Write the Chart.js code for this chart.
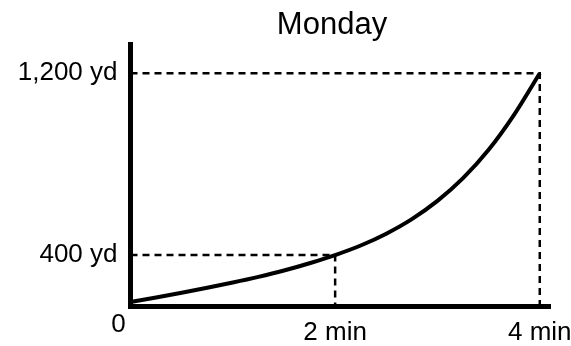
<!DOCTYPE html>
<html><head><meta charset="utf-8">
<script src="https://cdn.jsdelivr.net/npm/chart.js@4.4.1/dist/chart.umd.min.js"></script>
<style>html,body{margin:0;padding:0;background:#fff;overflow:hidden}</style>
</head><body>
<canvas id="c" width="571" height="346" style="width:571px;height:346px;display:block"></canvas>
<script>
// ---- data ----
const chartTitle = 'Monday';
const timeMin = [0, 0.25, 0.5, 0.75, 1, 1.25, 1.5, 1.75, 2, 2.25, 2.5, 2.75, 3, 3.25, 3.5, 3.75, 4];
const distanceYd = [193, 213, 234, 256, 279, 304, 332, 364, 400, 442, 494, 558, 638, 738, 863, 1018, 1200];
const xTickValues = [0, 2, 4];
const xTickLabels = ['0', '2 min', '4 min'];
const yTickValues = [400, 1200];
const yTickLabels = ['400 yd', '1,200 yd'];
const markedTimes = [2, 4];
const markedDistances = [400, 1200];

const X_MIN = 0, X_MAX = 4.1;
const Y_MIN = 173.6, Y_MAX = 1327.5;
const FONT = '"Liberation Sans", Arial, sans-serif';

const curve = {
  data: timeMin.map((t, i) => ({x: t, y: distanceYd[i]})),
  borderColor: '#000', borderWidth: 4, pointRadius: 0,
  cubicInterpolationMode: 'monotone', fill: false
};
const guides = markedTimes.map((t, i) => ({
  data: [{x: X_MIN, y: markedDistances[i]}, {x: t, y: markedDistances[i]}, {x: t, y: Y_MIN}],
  borderColor: '#000', borderWidth: 2.5, borderDash: [7, 5], pointRadius: 0,
  tension: 0, fill: false
}));

const originLabel = {
  id: 'originLabel',
  afterLayout(chart) {
    // let the y tick labels draw to the left of the narrow axis box
    chart.scales.y.left = 0;
  },
  afterDraw(chart) {
    const x = chart.scales.x, y = chart.scales.y;
    const ctx = chart.ctx;
    const idx = xTickValues.indexOf(0);
    ctx.save();
    ctx.font = '26px ' + FONT;
    ctx.fillStyle = '#000';
    ctx.textAlign = 'center';
    ctx.textBaseline = 'middle';
    ctx.fillText(xTickLabels[idx], x.getPixelForValue(0) - 12, y.bottom + 18);
    ctx.restore();
  }
};

new Chart(document.getElementById('c'), {
  type: 'line',
  data: {datasets: [curve, ...guides]},
  plugins: [originLabel],
  options: {
    responsive: false, animation: false, devicePixelRatio: 1,
    layout: {padding: {left: 114, right: 21, top: 0, bottom: 0}},
    plugins: {
      legend: {display: false}, tooltip: {enabled: false},
      title: {display: true, text: chartTitle, color: '#000',
        font: {family: FONT, size: 31, weight: 'normal'}, padding: {top: 7, bottom: 0}}
    },
    scales: {
      x: {
        type: 'linear', min: X_MIN, max: X_MAX,
        grid: {display: false},
        border: {display: true, color: '#000', width: 5},
        afterBuildTicks: s => { s.ticks = xTickValues.map(v => ({value: v})); },
        afterFit: s => { s.height = 39.5; s.paddingLeft = 0; s.paddingRight = 0; },
        ticks: {
          autoSkip: false, maxRotation: 0, color: '#000', padding: 3,
          font: {family: FONT, size: 26},
          callback: v => (v === 0 ? '' : xTickLabels[xTickValues.indexOf(v)])
        }
      },
      y: {
        type: 'linear', min: Y_MIN, max: Y_MAX,
        grid: {display: false},
        border: {display: true, color: '#000', width: 5},
        afterBuildTicks: s => { s.ticks = yTickValues.map(v => ({value: v})); },
        afterFit: s => { s.width = 16.5; s.paddingTop = 0; s.paddingBottom = 0; },
        ticks: {
          autoSkip: false, color: '#000', padding: 5,
          font: {family: FONT, size: 26},
          callback: v => yTickLabels[yTickValues.indexOf(v)]
        }
      }
    }
  }
});
</script>
</body></html>
